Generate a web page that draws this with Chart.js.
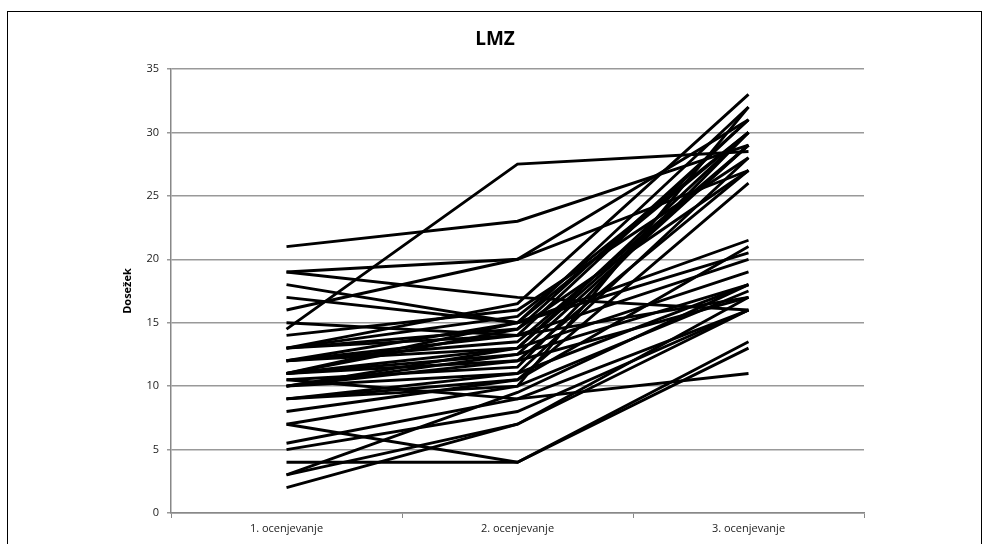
<!DOCTYPE html>
<html>
<head>
<meta charset="utf-8">
<script src="https://cdn.jsdelivr.net/npm/chart.js@4/dist/chart.umd.min.js"></script>
<style>
  html, body { margin: 0; padding: 0; background: #fff; }
  #wrap { position: relative; width: 985px; height: 544px; overflow: hidden; }
  #frame { position: absolute; left: 7px; top: 11px; width: 975px; height: 560px; border: 1.5px solid #000; box-sizing: border-box; }
  canvas { position: absolute; left: 0; top: 0; }
</style>
</head>
<body>
<div id="wrap">
  <div id="frame"></div>
  <canvas id="lmzChart" width="985" height="544"></canvas>
</div>
<script>
// Categories and tick labels
const categories = ['1. ocenjevanje', '2. ocenjevanje', '3. ocenjevanje'];
const yTicks = [0, 5, 10, 15, 20, 25, 30, 35];

// One value per pupil for each assessment
const ocena1 = [14.5, 21, 19, 16, 13, 11, 12, 10, 11, 9, 13, 10, 8, 12, 7, 14, 11, 10.5,
                18, 17, 15, 12, 10, 9, 13, 5.5, 5, 19, 9, 11, 3, 2, 3, 10.5, 7, 4,
                11, 12, 10, 13];
const ocena2 = [27.5, 23, 20, 20, 16.5, 15, 14, 13, 12.5, 11, 15.5, 12, 10.5, 13.5, 10, 16, 14.5, 11.5,
                15, 15, 14, 13, 11, 10, 14, 9, 8, 17, 10.5, 12, 7, 7, 9.5, 9, 4, 4,
                13, 15, 12.5, 14.5];
const ocena3 = [28.5, 29, 31, 27, 33, 32, 31, 30, 29, 28, 30, 27, 26, 29, 32, 28, 31, 30,
                21.5, 20.5, 20, 19, 18, 17.5, 17, 16, 16, 16, 21, 17, 16, 17, 18, 11, 13, 13.5,
                29, 30, 18, 27];

const datasets = ocena1.map((v, i) => ({
    label: 'Učenec ' + (i + 1),
    data: [v, ocena2[i], ocena3[i]],
    borderColor: '#000',
    borderWidth: 2.9,
    pointRadius: 0,
    tension: 0,
    fill: false
}));

// Title drawn centred on the frame
const titlePlugin = {
    id: 'lmzTitle',
    afterDraw(chart) {
        const ctx = chart.ctx;
        ctx.save();
        ctx.font = 'bold 19px "Open Sans", sans-serif';
        ctx.fillStyle = '#000';
        ctx.textAlign = 'center';
        ctx.textBaseline = 'middle';
        ctx.fillText('LMZ', 495, 40);
        ctx.restore();
    }
};

new Chart(document.getElementById('lmzChart'), {
    type: 'line',
    data: { labels: categories, datasets: datasets },
    plugins: [titlePlugin],
    options: {
        responsive: false,
        animation: false,
        layout: { padding: { left: 110, right: 121, top: 69, bottom: 0 } },
        plugins: {
            legend: { display: false },
            tooltip: { enabled: false }
        },
        scales: {
            x: {
                offset: true,
                grid: { offset: true, drawOnChartArea: false, drawTicks: true, tickLength: 5, color: '#888' },
                border: { color: '#888', width: 1.5 },
                ticks: { color: '#222', padding: 4, font: { family: '"Open Sans", sans-serif', size: 11 } },
                afterFit(scale) { scale.height = 31; }
            },
            y: {
                min: 0,
                max: 35,
                afterBuildTicks(scale) { scale.ticks = yTicks.map(v => ({ value: v })); },
                grid: { color: '#999', lineWidth: 1.5, tickLength: 4 },
                border: { color: '#888', width: 1.5 },
                ticks: { color: '#222', padding: 8, font: { family: '"Open Sans", sans-serif', size: 11 } },
                title: {
                    display: true,
                    text: 'Dosežek',
                    color: '#000',
                    padding: { top: 11, bottom: 0 },
                    font: { family: '"Open Sans", sans-serif', size: 11, weight: 'bold' }
                },
                afterFit(scale) { scale.width = 61; }
            }
        }
    }
});
</script>
</body>
</html>
